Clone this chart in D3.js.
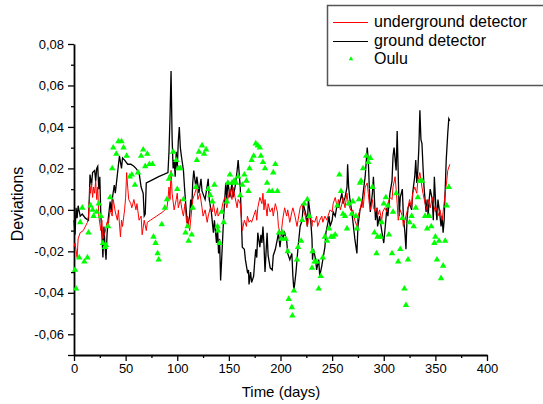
<!DOCTYPE html>
<html>
<head>
<meta charset="utf-8">
<script src="https://cdn.jsdelivr.net/npm/d3@7"></script>
<style>
  body { margin: 0; background: #fff; }
  text { font-family: "Liberation Sans", Arial, sans-serif; }
</style>
</head>
<body>
<div id="chart"></div>
<script>
// [day, deviation]
var underground = [
  [0,-0.018],[1,-0.016],[3,-0.023],[4,-0.014],[6,-0.011],[9,-0.010],[13,-0.006],[14,-0.003],[15,0.005],[15.5,0.011],
  [16,0.008],[17,0.013],[18,0.006],[19,0.011],[20,0.008],[21,0.014],[22,0.005],[23,0.011],[24,-0.003],[26,-0.010],
  [27,-0.005],[28,-0.014],[30,-0.011],[32,-0.006],[33,-0.008],[35,0.000],[37,-0.003],[38,0.005],[40,-0.001],[42,-0.005],
  [43,0.000],[45,-0.013],[46,-0.005],[47,-0.008],[49,0.000],[50,0.006],[51,0.018],[52,0.011],[53,0.005],[55,0.003],
  [56,0.001],[58,0.005],[60,0.000],[61,0.003],[63,-0.005],[65,-0.003],[66,-0.012],[68,-0.005],[70,-0.010],[71,-0.006],
  [74,-0.005],[80,-0.003],[86,-0.001],[90,0.001],[91,0.005],[92,0.011],[93,0.005],[94,0.019],[95,0.008],[97,0.000],
  [99,0.005],[100,0.008],[101,0.001],[103,0.005],[105,-0.001],[106,-0.003],[107.5,0.003],[109,-0.006],[110,-0.003],[112,-0.010],
  [114,0.000],[115,0.005],[117,0.008],[119,0.011],[120,0.005],[122,0.008],[124,0.001],[125,-0.003],[127,0.000],[129,-0.006],
  [130,-0.003],[132,0.001],[134,-0.001],[135,0.003],[137,-0.003],[139,0.001],[139.5,-0.003],[143,0.000],[144,0.003],[146,0.006],
  [148,0.001],[149,0.005],[151,0.010],[153,0.005],[154,0.011],[156,0.006],[158,0.001],[159,0.005],[161,0.003],[162,-0.003],
  [163,-0.010],[165,-0.005],[167,-0.008],[168,-0.003],[169.5,-0.006],[171,-0.005],[172,-0.006],[174,-0.003],[176,0.000],[177,-0.005],
  [178,0.001],[180,0.006],[182,0.003],[183,0.008],[184,0.000],[185,0.005],[187,-0.003],[188,0.003],[190,-0.001],[192,0.001],
  [193,-0.003],[195,0.003],[197,-0.001],[198,-0.008],[199.5,-0.011],[201,-0.010],[202,-0.005],[204,0.001],[206,-0.003],[207,0.000],
  [209,-0.006],[211,-0.001],[212,0.001],[214,-0.003],[216,-0.008],[217,-0.005],[219,0.001],[221,0.003],[222,0.000],[224,-0.003],
  [226,-0.008],[227,-0.005],[229,-0.003],[230.5,-0.008],[231,-0.005],[233,-0.006],[235,-0.003],[236,-0.008],[238,-0.005],[240,-0.003],
  [241,-0.006],[243,-0.003],[245,-0.005],[246,-0.003],[248,0.000],[250,-0.001],[251,0.003],[253,0.006],[255,0.001],[256,0.005],
  [258,0.000],[259.5,0.003],[260.5,0.006],[262.5,0.001],[264.4,0.008],[265,0.005],[267,0.001],[269,-0.001],[270,0.000],[272,-0.005],
  [274,-0.008],[275,-0.003],[277,0.000],[279,0.005],[280,0.001],[282,0.011],[284,0.013],[285,0.008],[286,0.003],[287,0.000],
  [289,0.005],[290,0.001],[292,-0.001],[293.5,0.001],[294,-0.003],[296,0.000],[298,-0.005],[299,-0.001],[301,0.001],[303,-0.001],
  [304,0.003],[306,0.006],[308,0.005],[309,0.011],[311,0.016],[312,0.010],[313,0.003],[314,-0.005],[316,0.000],[318,-0.003],
  [319,-0.008],[320.5,-0.005],[322.5,-0.001],[323.5,0.001],[325,0.005],[327,0.001],[328,0.008],[330,0.011],[332,0.008],[333,0.014],
  [335,0.018],[337,0.011],[338,0.008],[340,0.003],[342,0.000],[343,0.005],[345,0.001],[347,0.006],[348,0.003],[350,-0.001],
  [351.5,0.001],[352.5,-0.003],[354.5,0.000],[356.5,-0.005],[357.5,-0.001],[359.5,0.008],[361,0.014],[362,0.019],[364,0.022]
];

var ground = [
  [0,-0.005],[1,-0.012],[2,0.001],[3,-0.004],[4,0.002],[6,-0.003],[8,-0.002],[11,-0.004],[14,-0.005],[15,0.008],
  [15.5,0.017],[17,0.012],[18,0.018],[20,0.019],[21,0.014],[22,0.020],[23,0.021],[24,0.010],[25,0.016],[26,-0.003],
  [27,-0.011],[28,-0.023],[29,-0.008],[30,-0.017],[31,-0.024],[32,-0.012],[33,-0.005],[35,0.004],[36,-0.001],[37,0.005],
  [39,0.012],[40,0.008],[42,0.017],[44,0.026],[46,0.020],[47,0.025],[49,0.024],[52,0.022],[55,0.022],[58,0.021],
  [60,0.020],[63,0.018],[65,0.011],[67,0.008],[68,-0.003],[69,-0.002],[70,0.013],[74,0.014],[82,0.016],[91,0.018],
  [92,0.028],[93,0.045],[94,0.067],[95,0.035],[96,0.020],[97,0.024],[98,0.016],[99,0.028],[100,0.020],[101,0.033],
  [102,0.040],[103,0.030],[104,0.026],[106,0.019],[107,0.011],[108,0.004],[110,-0.008],[112,-0.003],[113,0.005],[114,0.000],
  [115,0.013],[116,0.019],[118,0.011],[119,0.016],[121,0.008],[123,0.015],[124,0.009],[127,0.005],[130,0.015],[131,0.005],
  [133,-0.001],[135,-0.011],[136,-0.005],[138,-0.016],[139,-0.008],[140,-0.021],[141,-0.014],[142,-0.034],[143,-0.024],[145,-0.003],
  [147,0.013],[148,0.005],[149,0.014],[151,0.006],[153,0.013],[154,0.006],[156,0.011],[158,0.019],[159,0.024],[161,0.011],
  [162,-0.003],[163,-0.018],[165,-0.019],[166,-0.024],[168,-0.030],[169,-0.029],[169.5,-0.036],[171,-0.030],[172,-0.035],[174,-0.032],
  [175,-0.025],[176,-0.019],[177,-0.023],[178,-0.011],[180,-0.018],[181,-0.012],[182,-0.016],[183,-0.008],[184,-0.017],[185,-0.030],
  [187,-0.011],[188,-0.022],[190,-0.028],[192,-0.029],[193,-0.022],[195,-0.019],[197,-0.014],[198,-0.011],[199.5,-0.018],[201,-0.011],
  [202,-0.014],[204,-0.011],[206,-0.015],[207,-0.021],[209,-0.024],[211,-0.021],[212,-0.032],[213,-0.039],[215,-0.030],[216,-0.024],
  [217,-0.018],[219,-0.008],[221,-0.005],[222,0.003],[223,0.001],[225,-0.003],[226,-0.008],[227,0.005],[229,-0.003],[230.5,-0.014],
  [231,-0.024],[232,-0.019],[234,-0.024],[235,-0.029],[237,-0.024],[238,-0.032],[240,-0.027],[241,-0.024],[243,-0.018],[244,-0.011],
  [246,-0.006],[247,-0.003],[248,-0.008],[250,-0.005],[251,-0.001],[253,-0.003],[255,0.003],[256,0.001],[258,0.005],[259.5,0.008],
  [260.5,0.003],[262.5,0.006],[264.4,0.011],[265,0.022],[266,0.011],[267,0.006],[269,-0.001],[270,-0.005],[272,-0.014],[274,-0.021],
  [275,-0.008],[277,0.000],[279,0.003],[280,0.008],[282,0.016],[284,0.030],[285,0.024],[286,0.011],[287,-0.001],[289,0.008],
  [290,0.016],[291,0.005],[292,-0.005],[293.5,0.001],[294,-0.008],[296,-0.003],[298,-0.010],[299,-0.013],[300,-0.016],[302,-0.005],
  [303,0.001],[304,-0.003],[306,0.008],[308,0.014],[309,0.026],[310,0.030],[312,0.019],[313,0.038],[314,0.018],[315,-0.003],
  [316,0.006],[318,0.010],[319,-0.003],[320.5,-0.011],[321.5,-0.019],[322.5,-0.005],[323.5,0.001],[325,0.003],[327,0.000],[328,0.008],
  [330,0.016],[331,0.024],[332,0.013],[333,0.019],[334,0.030],[335,0.048],[336,0.034],[337,0.032],[338,0.021],[339,0.011],
  [341,-0.001],[342,0.005],[343,-0.003],[344,0.005],[345,0.010],[347,0.005],[348,-0.005],[349,0.016],[350.5,0.001],[351.5,-0.005],
  [352.5,0.005],[354.5,-0.003],[355.5,-0.008],[356.5,-0.003],[357.5,-0.011],[358.5,-0.005],[360.5,0.024],[362,0.037],[363,0.044],[364,0.043]
];

var oulu = [
  [1,-0.029],[2,-0.038],[5,-0.023],[6,-0.006],[8,0.001],[10,-0.025],[13,-0.023],[14,-0.011],[16,0.002],[18,0.000],
  [19,-0.003],[22,-0.001],[24,0.003],[26,-0.003],[28,-0.016],[30,-0.018],[31,-0.017],[33,-0.008],[35,0.006],[37,0.020],
  [38,0.030],[41,0.027],[43,0.033],[46,0.033],[48,0.030],[51,0.026],[54,0.016],[56,0.017],[59,0.012],[62,0.018],
  [65,0.026],[67,0.029],[69,0.021],[71,0.027],[73,0.022],[76,0.022],[77,-0.013],[79,-0.016],[81,-0.021],[82,-0.024],
  [85,-0.007],[88,0.001],[90,0.005],[92,0.015],[94,0.017],[96,0.028],[99,0.024],[100,0.010],[101,0.020],[103,0.020],
  [106,0.005],[108,-0.011],[110,-0.008],[111,-0.015],[114,-0.012],[115,0.001],[118,0.011],[119,0.024],[121,0.028],[124,0.031],
  [126,0.027],[128,0.029],[130,0.010],[132,0.007],[134,0.004],[136,0.012],[139,-0.008],[139.5,-0.010],[141,-0.016],[143,-0.001],
  [145,-0.006],[148,0.004],[149,0.013],[151,0.017],[153,0.013],[155,0.014],[157,0.013],[159,0.016],[161,0.007],[163,0.012],
  [165,0.017],[167,0.014],[169,0.009],[170,0.020],[172,0.024],[174,0.026],[176,0.032],[178,0.031],[180,0.030],[181,0.026],
  [183,0.023],[185,0.020],[187,0.013],[189,0.009],[192,0.009],[193,0.018],[195,0.022],[197,0.009],[198.5,-0.011],[201,-0.014],
  [202,-0.011],[205,-0.014],[207,-0.020],[208,-0.043],[211,-0.047],[211.5,-0.051],[213,-0.039],[216,-0.024],[217,-0.018],[220,-0.015],
  [221,-0.005],[223,0.003],[226,0.005],[228,-0.003],[230.5,-0.028],[231,-0.020],[233,-0.025],[235,-0.025],[237,-0.038],[239,-0.032],
  [241,-0.023],[243,-0.013],[245,-0.015],[247,-0.009],[249,-0.013],[251,-0.013],[253,-0.012],[255,0.002],[257,0.017],[258.6,0.009],
  [260.5,-0.002],[262.5,-0.003],[264.4,-0.009],[266,0.003],[269,-0.002],[270,0.004],[273,-0.003],[274,-0.009],[276,0.005],[277,0.013],
  [278,0.014],[280,0.020],[283,0.026],[285,0.023],[287,0.025],[289,0.011],[291,-0.011],[293,-0.021],[294,-0.013],[297,-0.013],
  [298,-0.006],[300,0.003],[302,0.006],[304,0.002],[305,-0.012],[308,-0.021],[309,-0.001],[312,0.008],[314,-0.025],[316,-0.019],
  [318,-0.004],[320,-0.038],[321.5,-0.046],[323.5,-0.024],[325,-0.006],[327,-0.003],[329,-0.008],[331,0.001],[333,0.006],[335,0.014],
  [337,0.014],[340,-0.003],[342,-0.009],[344,-0.003],[346,-0.008],[349,-0.016],[350,-0.013],[351.5,-0.024],[353.5,-0.015],[355.5,-0.033],
  [357.5,-0.027],[359.5,-0.015],[361,0.002],[363,0.011]
];

var xTicks = [0, 50, 100, 150, 200, 250, 300, 350, 400];
var yTicks = [-0.06, -0.04, -0.02, 0.00, 0.02, 0.04, 0.06, 0.08];
var seriesNames = ["underground detector", "ground detector", "Oulu"];

var width = 543,
    height = 404;

var x = d3.scaleLinear().domain([0, 400]).range([74, 487]);
var y = d3.scaleLinear().domain([-0.07, 0.08]).range([355, 44]);

var locale = d3.formatLocale({decimal: ",", thousands: ".", grouping: [3], currency: ["", ""], minus: "-"});
var fmt = locale.format(".2f");

var svg = d3.select("#chart").append("svg")
    .attr("width", width)
    .attr("height", height);

svg.append("rect").attr("width", width).attr("height", height).attr("fill", "#fff");

// minor ticks first
svg.append("g")
    .attr("transform", "translate(0,355)")
    .call(d3.axisBottom(x).tickValues(d3.range(25, 400, 50)).tickSize(3).tickFormat(""))
    .call(g => g.select(".domain").remove());
svg.append("g")
    .attr("transform", "translate(74,0)")
    .call(d3.axisLeft(y).tickValues([-0.05, -0.03, -0.01, 0.01, 0.03, 0.05, 0.07]).tickSize(3).tickFormat(""))
    .call(g => g.select(".domain").remove());

var xAxis = svg.append("g")
    .attr("transform", "translate(0,355)")
    .call(d3.axisBottom(x).tickValues(xTicks).tickSize(6).tickSizeOuter(0).tickPadding(3));
var yAxis = svg.append("g")
    .attr("transform", "translate(74,0)")
    .call(d3.axisLeft(y).tickValues(yTicks.concat([-0.07])).tickSize(6).tickSizeOuter(0).tickPadding(4)
        .tickFormat(d => d === -0.07 ? "" : fmt(d)));

svg.selectAll(".tick line").attr("stroke", "#000").attr("stroke-width", 1.3);
svg.selectAll(".domain").attr("stroke", "#000").attr("stroke-width", 1.8);
svg.selectAll(".tick text")
    .attr("font-family", "Liberation Sans, Arial, sans-serif")
    .attr("font-size", 13)
    .attr("fill", "#000");

var line = d3.line()
    .x(d => x(d[0]))
    .y(d => y(d[1]));

svg.append("path")
    .datum(ground)
    .attr("d", line)
    .attr("fill", "none")
    .attr("stroke", "#000")
    .attr("stroke-width", 1.3);

svg.append("path")
    .datum(underground)
    .attr("d", line)
    .attr("fill", "none")
    .attr("stroke", "#ff0000")
    .attr("stroke-width", 1);

var tri = d3.symbol().type(d3.symbolTriangle).size(18);
svg.append("g")
    .selectAll("path")
    .data(oulu)
    .enter().append("path")
    .attr("d", tri)
    .attr("transform", d => "translate(" + x(d[0]) + "," + y(d[1]) + ")")
    .attr("fill", "#00ff00");

// axis titles
svg.append("text")
    .attr("x", 281)
    .attr("y", 397)
    .attr("text-anchor", "middle")
    .attr("font-size", 15)
    .text("Time (days)");

svg.append("text")
    .attr("transform", "translate(23,204) rotate(-90)")
    .attr("text-anchor", "middle")
    .attr("font-size", 16)
    .text("Deviations");

// legend
var legend = svg.append("g");
legend.append("rect")
    .attr("x", 327.5)
    .attr("y", 5.5)
    .attr("width", 240)
    .attr("height", 80)
    .attr("fill", "#fff")
    .attr("stroke", "#555")
    .attr("stroke-width", 1.5);

legend.append("line")
    .attr("x1", 333).attr("x2", 368).attr("y1", 22.5).attr("y2", 22.5)
    .attr("stroke", "#ff0000").attr("stroke-width", 1);
legend.append("line")
    .attr("x1", 333).attr("x2", 368).attr("y1", 41.5).attr("y2", 41.5)
    .attr("stroke", "#000").attr("stroke-width", 1);
legend.append("path")
    .attr("d", d3.symbol().type(d3.symbolTriangle).size(9))
    .attr("transform", "translate(351,59)")
    .attr("fill", "#00ff00");

legend.selectAll("text.lg")
    .data(seriesNames)
    .enter().append("text")
    .attr("class", "lg")
    .attr("x", 374)
    .attr("y", (d, i) => 27 + i * 18.5)
    .attr("font-size", 16)
    .text(d => d);
</script>
</body>
</html>
